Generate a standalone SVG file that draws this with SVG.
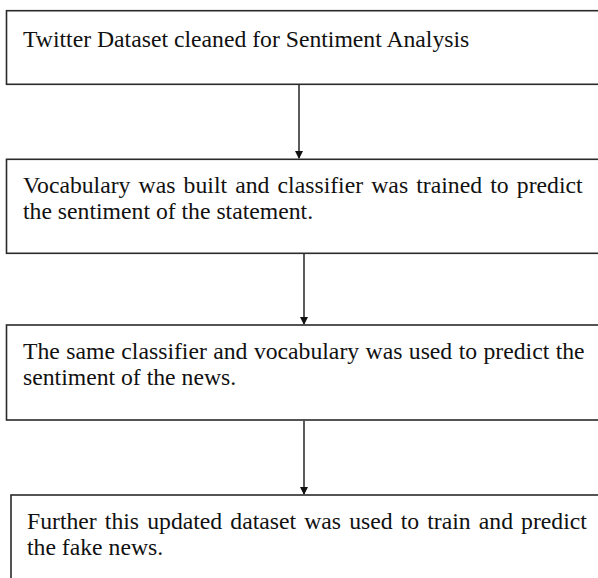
<svg xmlns="http://www.w3.org/2000/svg" width="598" height="578" viewBox="0 0 598 578">
<style>
.box{fill:#fff;stroke:#2a2a2a;stroke-width:1.6}
.t{font-family:"Liberation Serif","Times New Roman",serif;font-size:23.7px;fill:#111}
.c{stroke:#333;stroke-width:1.6;fill:none}
</style>
<defs>
<marker id="ah" markerWidth="8" markerHeight="8" refX="7" refY="4" orient="auto" markerUnits="userSpaceOnUse">
<path d="M0,0 L8,4 L0,8 Z" fill="#111"/>
</marker>
</defs>
<rect width="598" height="578" fill="#fff"/>
<g id="connectors">
<line class="c" x1="299" y1="85" x2="299" y2="158" marker-end="url(#ah)"/>
<line class="c" x1="304" y1="254" x2="304" y2="324" marker-end="url(#ah)"/>
<line class="c" x1="304" y1="421" x2="304" y2="494" marker-end="url(#ah)"/>
</g>
<g id="node1">
<rect class="box" x="6.5" y="10.7" width="600" height="73.6"/>
<text class="t" x="23" y="47">Twitter Dataset cleaned for Sentiment Analysis</text>
</g>
<g id="node2">
<rect class="box" x="6.5" y="159.3" width="600" height="94"/>
<text class="t" x="23" y="193" word-spacing="2.25">Vocabulary was built and classifier was trained to predict</text>
<text class="t" x="23" y="219">the sentiment of the statement.</text>
</g>
<g id="node3">
<rect class="box" x="6.5" y="325" width="600" height="95"/>
<text class="t" x="23" y="359" word-spacing="0.5">The same classifier and vocabulary was used to predict the</text>
<text class="t" x="23" y="385">sentiment of the news.</text>
</g>
<g id="node4">
<rect class="box" x="11" y="495" width="600" height="120"/>
<text class="t" x="27" y="529" word-spacing="2.2">Further this updated dataset was used to train and predict</text>
<text class="t" x="27" y="555">the fake news.</text>
</g>
</svg>
